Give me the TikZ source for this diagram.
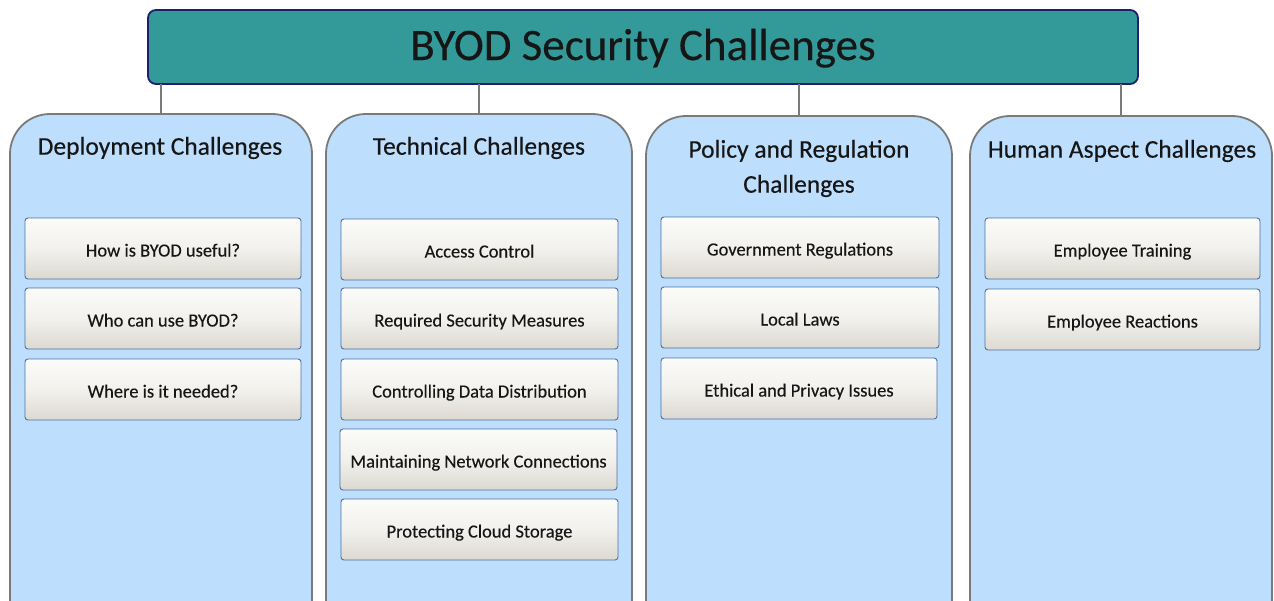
\documentclass[tikz,border=0pt]{standalone}
\usepackage{fontspec}
\setmainfont{Carlito}[FakeBold=0.3]
\definecolor{tealbox}{HTML}{339999}
\definecolor{navyline}{HTML}{1C1F6B}
\definecolor{colfill}{HTML}{BDDEFC}
\definecolor{colline}{HTML}{7A7A7A}
\definecolor{itemline}{HTML}{4F71A3}
\definecolor{itemtop}{HTML}{FBFBF9}
\definecolor{itembot}{HTML}{DCD9D1}
\definecolor{txt}{HTML}{161616}
\begin{document}
\begin{tikzpicture}[x=1pt,y=-1pt,
  titlebox/.style={draw=navyline, line width=1.8pt, fill=tealbox, rounded corners=8pt,
    anchor=north west, inner sep=0pt, outer sep=0pt, minimum width=990pt, minimum height=74pt,
    text height=26pt, text depth=0pt,
    font=\fontsize{45}{52}\selectfont, text=txt},
  column/.style={draw=colline, line width=1.8pt, fill=colfill, rounded corners=40pt,
    anchor=north west, inner sep=0pt, outer sep=0pt, minimum height=540pt},
  header/.style={font=\fontsize{25.5}{35}\selectfont, text=txt, align=center, inner sep=0pt},
  item/.style={draw=itemline, line width=0.9pt, rounded corners=3pt,
    top color=itemtop, bottom color=itembot, middle color=itemtop!70!itembot,
    anchor=north west, inner sep=0pt, outer sep=0pt, minimum width=277pt, minimum height=61pt,
    text height=16pt, text depth=0pt,
    font=\fontsize{18.5}{22}\selectfont, text=txt},
  link/.style={draw=colline, line width=1.6pt}
]
\useasboundingbox (0,0) rectangle (1274,600);
\clip (0,0) rectangle (1274,600);

% title bar
\node[titlebox] (title) at (148,10) {BYOD Security Challenges};

% the four challenge columns
\node[column, minimum width=302pt] (c1) at (10,114) {};
\node[column, minimum width=306pt] (c2) at (326,114) {};
\node[column, minimum width=306pt] (c3) at (646,116) {};
\node[column, minimum width=302pt] (c4) at (970,116) {};

% connectors from the title to each column
\foreach \c in {c1,c2,c3,c4}
  \draw[link] (title.south -| \c.north) -- (\c.north);

% column headings
\node[header] (h1) at (160,148) {Deployment Challenges};
\node[header] (h2) at (479,148) {Technical Challenges};
\node[header] (h3) at (799,168.5) {Policy and Regulation\\Challenges};
\node[header] (h4) at (1122,151) {Human Aspect Challenges};

% deployment
\node[item, minimum width=276pt] (d1) at (25,218) {How is BYOD useful?};
\node[item, minimum width=276pt] (d2) at (25,288) {Who can use BYOD?};
\node[item, minimum width=276pt] (d3) at (25,359) {Where is it needed?};

% technical
\node[item] (t1) at (341,219) {Access Control};
\node[item] (t2) at (341,288) {Required Security Measures};
\node[item] (t3) at (341,359) {Controlling Data Distribution};
\node[item] (t4) at (340,429) {Maintaining Network Connections};
\node[item] (t5) at (341,499) {Protecting Cloud Storage};

% policy and regulation
\node[item, minimum width=278pt] (p1) at (661,217) {Government Regulations};
\node[item, minimum width=278pt] (p2) at (661,287) {Local Laws};
\node[item, minimum width=276pt] (p3) at (661,358) {Ethical and Privacy Issues};

% human aspect
\node[item, minimum width=275pt] (e1) at (985,218) {Employee Training};
\node[item, minimum width=275pt] (e2) at (985,289) {Employee Reactions};
\end{tikzpicture}
\end{document}
